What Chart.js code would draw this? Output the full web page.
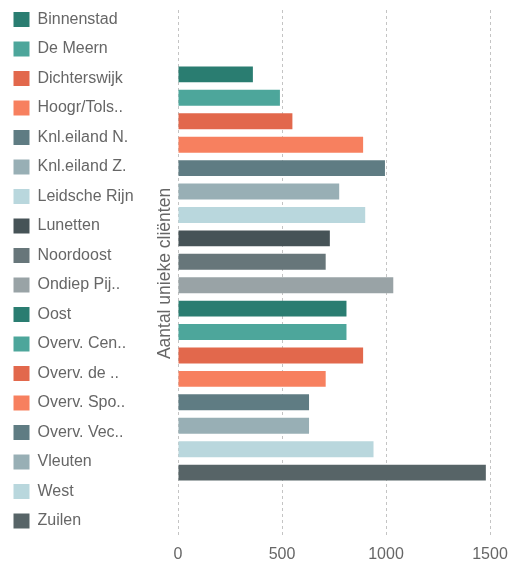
<!DOCTYPE html>
<html>
<head>
<meta charset="utf-8">
<script src="https://cdn.jsdelivr.net/npm/chart.js@4/dist/chart.umd.min.js"></script>
<style>
  html, body { margin: 0; padding: 0; background: #fff; }
  #wrap { width: 511px; height: 563px; }
</style>
</head>
<body>
<div id="wrap"><canvas id="wijkChart"></canvas></div>
<script>
// wijken + aantal unieke cliënten
const wijken = ['Binnenstad', 'De Meern', 'Dichterswijk', 'Hoogr/Tols..', 'Knl.eiland N.', 'Knl.eiland Z.',
  'Leidsche Rijn', 'Lunetten', 'Noordoost', 'Ondiep Pij..', 'Oost', 'Overv. Cen..', 'Overv. de ..',
  'Overv. Spo..', 'Overv. Vec..', 'Vleuten', 'West', 'Zuilen'];
const aantallen = [360, 490, 550, 890, 995, 775, 900, 730, 710, 1035, 810, 810, 890, 710, 630, 630, 940, 1480];
const kleuren = ['#2a7d71', '#4da69b', '#e2684c', '#f7805f', '#5f7c83', '#98afb5', '#b9d7dd', '#465357',
  '#67767a', '#99a3a6', '#2a7d71', '#4da69b', '#e2684c', '#f7805f', '#5f7c83', '#98afb5', '#b9d7dd', '#576467'];
const xTicks = [0, 500, 1000, 1500];

// elke wijk een eigen dataset, zodat de legenda links alle wijken toont
let datasets = wijken.map((w, i) => ({
  label: w,
  data: [aantallen[i]],
  backgroundColor: kleuren[i],
  barPercentage: 0.68,
  categoryPercentage: 0.8
}));

// legenda vaste breedte geven en iets omhoog schuiven
const legendWidth = {
  id: 'legendWidth',
  beforeInit(chart) {
    const origFit = chart.legend.fit;
    chart.legend.fit = function () {
      origFit.bind(chart.legend)();
      this.width = 149;
    };
  },
  afterLayout(chart) {
    chart.legend.top -= 2;
    chart.legend.bottom -= 2;
  }
};

const config = {
  type: 'bar',
  data: { labels: [''], datasets: datasets },
  plugins: [legendWidth],
  options: {
    indexAxis: 'y',
    responsive: true,
    maintainAspectRatio: false,
    animation: false,
    plugins: {
      tooltip: { enabled: false },
      legend: {
        position: 'left',
        align: 'start',
        labels: {
          boxWidth: 16,
          boxHeight: 15,
          padding: 13.5,
          color: '#666',
          font: { family: 'Liberation Sans', size: 16 }
        }
      }
    },
    scales: {
      x: {
        min: 0,
        max: 1500,
        afterBuildTicks: (scale) => { scale.ticks = xTicks.map(v => ({ value: v })); },
        afterFit: (scale) => {
          scale.height = 26;
          scale.paddingLeft = 0;
          scale.paddingRight = 21;
        },
        border: { display: false, dash: [3, 3] },
        grid: { color: '#c4c4c4', drawTicks: false, borderDash: [3, 3], tickBorderDash: [3, 3] },
        ticks: {
          color: '#666',
          padding: 8,
          font: { family: 'Liberation Sans', size: 16 },
          callback: (v) => String(v)
        }
      },
      x2: {
        type: 'linear',
        position: 'top',
        grid: { display: false },
        border: { display: false },
        ticks: { display: false },
        afterFit: (scale) => { scale.height = 10; }
      },
      y: {
        border: { display: false },
        grid: { display: false },
        ticks: { display: false },
        title: {
          display: true,
          text: 'Aantal unieke cliënten',
          color: '#666',
          padding: { top: 6, bottom: -6 },
          font: { family: 'Liberation Sans', size: 17.5 }
        }
      }
    }
  }
};

let canvas = document.getElementById('wijkChart');
new Chart(canvas, config);
</script>
</body>
</html>
